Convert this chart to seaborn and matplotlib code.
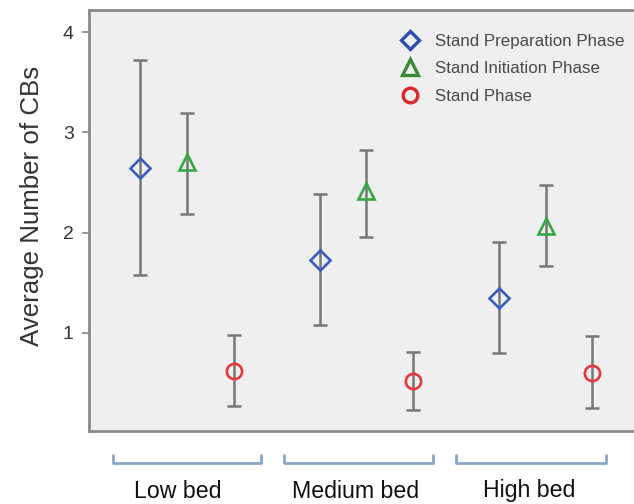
import matplotlib
matplotlib.use("Agg")
import matplotlib.pyplot as plt
import seaborn as sns
import pandas as pd
import numpy as np
from matplotlib.lines import Line2D

groups = ["Low bed", "Medium bed", "High bed"]
phases = ["Stand Preparation Phase", "Stand Initiation Phase", "Stand Phase"]
means = {
    "Stand Preparation Phase": [2.64, 1.73, 1.35],
    "Stand Initiation Phase": [2.70, 2.41, 2.07],
    "Stand Phase": [0.62, 0.52, 0.60],
}
upper = {
    "Stand Preparation Phase": [3.72, 2.38, 1.91],
    "Stand Initiation Phase": [3.19, 2.82, 2.47],
    "Stand Phase": [0.98, 0.81, 0.97],
}
lower = {
    "Stand Preparation Phase": [1.58, 1.08, 0.80],
    "Stand Initiation Phase": [2.18, 1.96, 1.67],
    "Stand Phase": [0.27, 0.23, 0.25],
}
yticks = [1, 2, 3, 4]

colors = {"Stand Preparation Phase": "#3a5cc0",
          "Stand Initiation Phase": "#36a843",
          "Stand Phase": "#e8383c"}
legend_colors = {"Stand Preparation Phase": "#2a4fb0",
                 "Stand Initiation Phase": "#3a8a34",
                 "Stand Phase": "#d82828"}
markers = {"Stand Preparation Phase": "D",
           "Stand Initiation Phase": "^",
           "Stand Phase": "o"}
msize = {"Stand Preparation Phase": 10.5,
         "Stand Initiation Phase": 12,
         "Stand Phase": 11}

rows = []
for pi, ph in enumerate(phases):
    for gi, g in enumerate(groups):
        rows.append(dict(group=g, phase=ph, gi=gi, pi=pi,
                         mean=means[ph][gi], lo=lower[ph][gi], hi=upper[ph][gi]))
df = pd.DataFrame(rows)
offset = 0.26
df["x"] = df["gi"] + (df["pi"] - 1) * offset

sns.set_theme(style="white")
plt.rcParams["font.family"] = ["Liberation Sans", "DejaVu Sans"]

fig = plt.figure(figsize=(6.34, 5.04), dpi=100)
ax = fig.add_axes([89/634, 73/504, 550/634, 421/504])
ax.set_facecolor("#efefef")

for ph in phases:
    sub = df[df["phase"] == ph]
    ax.errorbar(sub["x"], sub["mean"],
                yerr=[sub["mean"] - sub["lo"], sub["hi"] - sub["mean"]],
                fmt="none", ecolor="#777777", elinewidth=1.8, capsize=4.8,
                capthick=1.8, zorder=2)

for ph in phases:
    sub = df[df["phase"] == ph]
    ax.plot(sub["x"], sub["mean"], linestyle="none", marker=markers[ph],
            markersize=msize[ph], markerfacecolor="none",
            markeredgecolor=colors[ph], markeredgewidth=1.9, zorder=3)

ax.set_xlim(-0.547, 2.52)
ax.set_ylim(0.02, 4.22)
ax.set_yticks(yticks)
ax.set_yticklabels([str(t) for t in yticks], fontsize=14, color="#333333")
ax.set_xticks([])
ax.tick_params(axis="y", which="both", left=True, length=5, width=1.2,
               color="#888888", pad=6)
ax.set_ylabel("Average Number of CBs", fontsize=18.6, color="#333333", labelpad=10)
ax.yaxis.set_label_coords(-0.082, 0.534)
for s in ax.spines.values():
    s.set_color("#8a8a8a")
    s.set_linewidth(2)

handles = [Line2D([], [], linestyle="none", marker=markers[ph],
                  markersize={"D": 9, "^": 11, "o": 10.5}[markers[ph]],
                  markerfacecolor="none", markeredgecolor=legend_colors[ph],
                  markeredgewidth=2.4) for ph in phases]
ax.legend(handles, phases, loc="upper left", bbox_to_anchor=(0.556, 0.960),
          frameon=False, fontsize=12.2, labelcolor="#4a4a4a",
          handlelength=1.0, handletextpad=0.98, labelspacing=0.74,
          borderaxespad=0, borderpad=0.4)

# group brackets and labels below the axes
bracket_px = [(113, 261), (284, 433), (456, 606)]
label_px = [178, 356, 529]
W, H = 634, 504
for (x0, x1), lx, g in zip(bracket_px, label_px, groups):
    xs = [x0 / W, x0 / W, x1 / W, x1 / W]
    ys = [1 - 455 / H, 1 - 463 / H, 1 - 463 / H, 1 - 455 / H]
    fig.add_artist(Line2D(xs, ys, color="#8aa6c8", linewidth=2,
                          transform=fig.transFigure))
    fig.text(lx / W, 1 - 491 / H, g, ha="center", va="center",
             fontsize=16.7, color="#111111")

fig.savefig("out.png", dpi=100)
